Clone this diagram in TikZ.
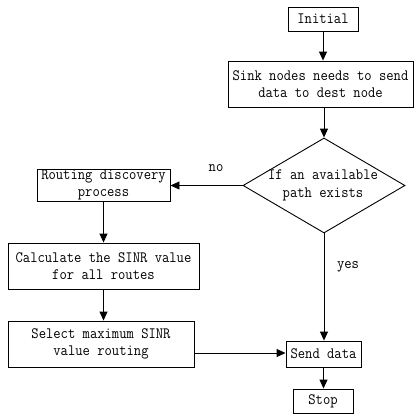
\documentclass[tikz,border=0pt]{standalone}
\usepackage{fontspec}
\newfontfamily\flowfont[FakeStretch=0.9]{Latin Modern Mono}
\usetikzlibrary{arrows.meta,shapes.geometric}
\begin{document}
\begin{tikzpicture}[x=1pt,y=-1pt,
  every node/.style={font=\flowfont\fontsize{15.8}{17.5}\selectfont},
  box/.style={draw,line width=0.9pt,inner sep=0pt,align=center},
  arr/.style={line width=0.9pt,-{Triangle[length=9pt,width=8pt]}},
  lab/.style={inner sep=0pt}]
\useasboundingbox (0,0) rectangle (415,415);
\node[box,minimum width=70,minimum height=24] (init) at (323,19) {Initial};
\node[box,minimum width=185,minimum height=46] (sink) at (320.5,84) {Sink nodes needs to send\\data to dest node};
\node[draw,diamond,line width=0.9pt,inner sep=0pt,minimum width=162,minimum height=95] (dec) at (324,185.5) {};
\node[lab,align=center] (dect) at (323,185.5) {If an available\\path exists};
\node[box,minimum width=133,minimum height=32] (rout) at (103.5,185) {Routing discovery\\process};
\node[box,minimum width=191,minimum height=46] (calc) at (103.5,266) {Calculate the SINR value\\for all routes};
\node[box,minimum width=186,minimum height=46] (sel) at (101,344) {Select maximum SINR\\value routing};
\node[box,minimum width=75,minimum height=26] (send) at (323.5,354) {Send data};
\node[box,minimum width=60,minimum height=24] (stop) at (323,401) {Stop};
\node[lab] (no) at (216,168) {no};
\node[lab] (yes) at (348,267) {yes};
\coordinate (selout) at (sel.east |- 0,353);
\coordinate (sendin) at (send.west |- 0,353);
\draw[arr] (init.south) -- (init.south |- sink.north);
\draw[arr] (sink.south -| dec.north) -- (dec.north);
\draw[arr] (dec.west) -- (rout.east |- dec.west);
\draw[arr] (rout.south) -- (rout.south |- calc.north);
\draw[arr] (calc.south) -- (calc.south |- sel.north);
\draw[arr] (selout) -- (sendin);
\draw[arr] (dec.south) -- (dec.south |- send.north);
\draw[arr] (send.south) -- (send.south |- stop.north);
\end{tikzpicture}
\end{document}
